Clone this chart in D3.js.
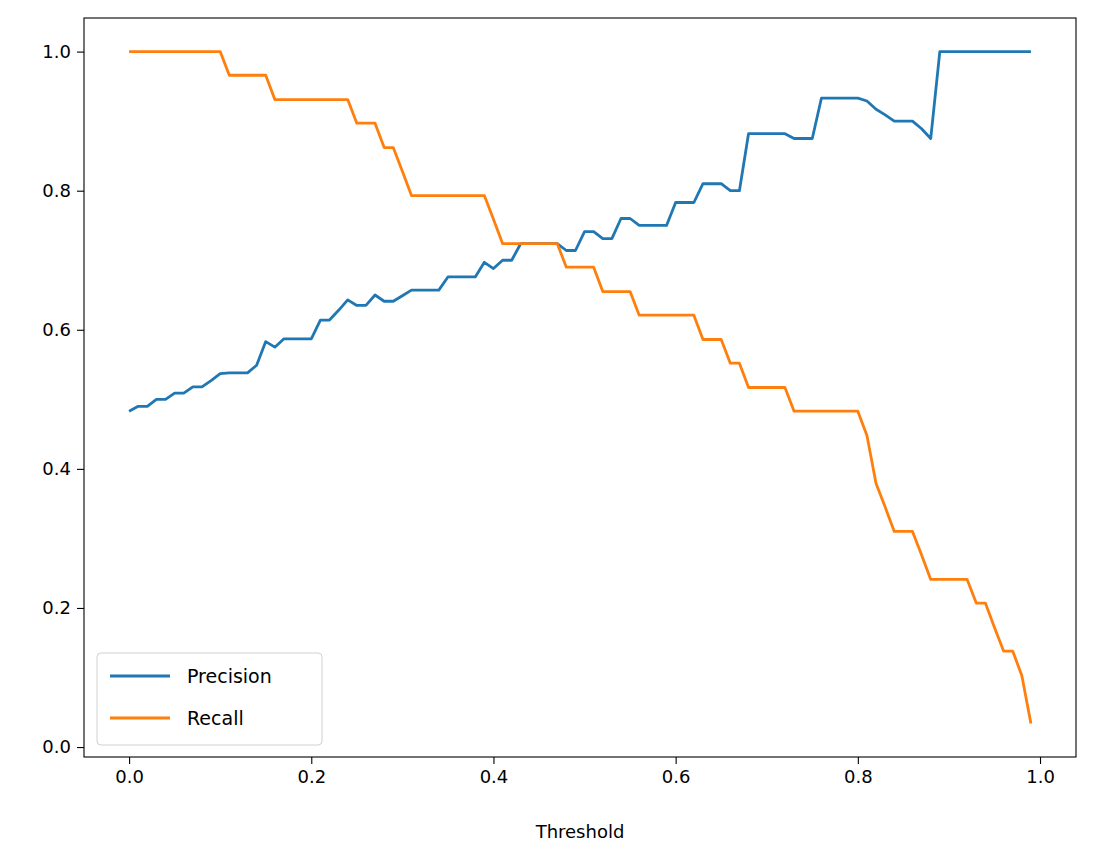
<!DOCTYPE html>
<html>
<head>
<meta charset="utf-8">
<script src="https://cdn.jsdelivr.net/npm/d3@7"></script>
<style>
  body { margin: 0; background: #fff; }
  svg text { font-family: "DejaVu Sans", sans-serif; }
  .axis path, .axis line { stroke: #000; stroke-width: 1.1; }
  .axis text { font-size: 18px; fill: #000; }
</style>
</head>
<body>
<svg width="1095" height="865"></svg>
<script>
// thresholds 0.00 .. 0.99
var thresholds = d3.range(0, 100).map(function (i) { return i / 100; });

var precision = [
  0.483, 0.490, 0.490, 0.500, 0.500, 0.509, 0.509, 0.518, 0.518, 0.527,
  0.537, 0.538, 0.538, 0.538, 0.549, 0.583, 0.575, 0.587, 0.587, 0.587,
  0.587, 0.614, 0.614, 0.628, 0.643, 0.635, 0.635, 0.650, 0.641, 0.641,
  0.649, 0.657, 0.657, 0.657, 0.657, 0.676, 0.676, 0.676, 0.676, 0.697,
  0.688, 0.700, 0.700, 0.724, 0.724, 0.724, 0.724, 0.724, 0.714, 0.714,
  0.741, 0.741, 0.731, 0.731, 0.760, 0.760, 0.750, 0.750, 0.750, 0.750,
  0.783, 0.783, 0.783, 0.810, 0.810, 0.810, 0.800, 0.800, 0.882, 0.882,
  0.882, 0.882, 0.882, 0.875, 0.875, 0.875, 0.933, 0.933, 0.933, 0.933,
  0.933, 0.929, 0.917, 0.909, 0.900, 0.900, 0.900, 0.889, 0.875, 1.000,
  1.000, 1.000, 1.000, 1.000, 1.000, 1.000, 1.000, 1.000, 1.000, 1.000
];

var recall = [
  1.000, 1.000, 1.000, 1.000, 1.000, 1.000, 1.000, 1.000, 1.000, 1.000,
  1.000, 0.966, 0.966, 0.966, 0.966, 0.966, 0.931, 0.931, 0.931, 0.931,
  0.931, 0.931, 0.931, 0.931, 0.931, 0.897, 0.897, 0.897, 0.862, 0.862,
  0.828, 0.793, 0.793, 0.793, 0.793, 0.793, 0.793, 0.793, 0.793, 0.793,
  0.759, 0.724, 0.724, 0.724, 0.724, 0.724, 0.724, 0.724, 0.690, 0.690,
  0.690, 0.690, 0.655, 0.655, 0.655, 0.655, 0.621, 0.621, 0.621, 0.621,
  0.621, 0.621, 0.621, 0.586, 0.586, 0.586, 0.552, 0.552, 0.517, 0.517,
  0.517, 0.517, 0.517, 0.483, 0.483, 0.483, 0.483, 0.483, 0.483, 0.483,
  0.483, 0.448, 0.379, 0.345, 0.310, 0.310, 0.310, 0.276, 0.241, 0.241,
  0.241, 0.241, 0.241, 0.207, 0.207, 0.172, 0.138, 0.138, 0.103, 0.034
];

var xTicks = [0.0, 0.2, 0.4, 0.6, 0.8, 1.0];
var yTicks = [0.0, 0.2, 0.4, 0.6, 0.8, 1.0];

var series = [
  {name: "Precision", values: precision, color: "#1f77b4"},
  {name: "Recall", values: recall, color: "#ff7f0e"}
];

var svg = d3.select("svg"),
    margin = {top: 18, right: 19, bottom: 108, left: 84},
    width = 1095 - margin.left - margin.right,
    height = 865 - margin.top - margin.bottom,
    g = svg.append("g").attr("transform", "translate(" + margin.left + "," + margin.top + ")");

// matplotlib-like 5% margins
var xExt = d3.extent(thresholds), xPad = (xExt[1] - xExt[0]) * 0.05;
var allY = precision.concat(recall);
var yExt = d3.extent(allY), yPad = (yExt[1] - yExt[0]) * 0.05;

var x = d3.scaleLinear().domain([xExt[0] - xPad, xExt[1] + xPad]).range([0, width]);
var y = d3.scaleLinear().domain([yExt[0] - yPad, yExt[1] + yPad]).range([height, 0]);

var line = d3.line()
    .x(function (d, i) { return x(thresholds[i]); })
    .y(function (d) { return y(d); });

series.forEach(function (s) {
  g.append("path")
      .datum(s.values)
      .attr("fill", "none")
      .attr("stroke", s.color)
      .attr("stroke-width", 2.8)
      .attr("stroke-linejoin", "round")
      .attr("d", line);
});

g.append("g")
    .attr("class", "axis")
    .attr("transform", "translate(0," + height + ")")
    .call(d3.axisBottom(x).tickValues(xTicks).tickFormat(d3.format(".1f")).tickSize(7).tickPadding(6))
    .call(function (a) { a.select(".domain").remove(); });

g.append("g")
    .attr("class", "axis")
    .call(d3.axisLeft(y).tickValues(yTicks).tickFormat(d3.format(".1f")).tickSize(7).tickPadding(6))
    .call(function (a) { a.select(".domain").remove(); });

g.append("rect")
    .attr("width", width).attr("height", height)
    .attr("fill", "none").attr("stroke", "#000").attr("stroke-width", 1.1);

g.append("text")
    .attr("x", width / 2).attr("y", height + 81)
    .attr("text-anchor", "middle")
    .style("font-size", "18px")
    .text("Threshold");

// legend
var lg = g.append("g").attr("transform", "translate(13," + (height - 104) + ")");
lg.append("rect")
    .attr("width", 225).attr("height", 92).attr("rx", 4)
    .attr("fill", "#fff").attr("fill-opacity", 0.8)
    .attr("stroke", "#d0d0d0");
series.forEach(function (s, i) {
  var yy = 23 + i * 42;
  lg.append("line")
      .attr("x1", 13).attr("x2", 73).attr("y1", yy).attr("y2", yy)
      .attr("stroke", s.color).attr("stroke-width", 2.8);
  lg.append("text")
      .attr("x", 90).attr("y", yy + 7)
      .style("font-size", "19px")
      .text(s.name);
});
</script>
</body>
</html>
